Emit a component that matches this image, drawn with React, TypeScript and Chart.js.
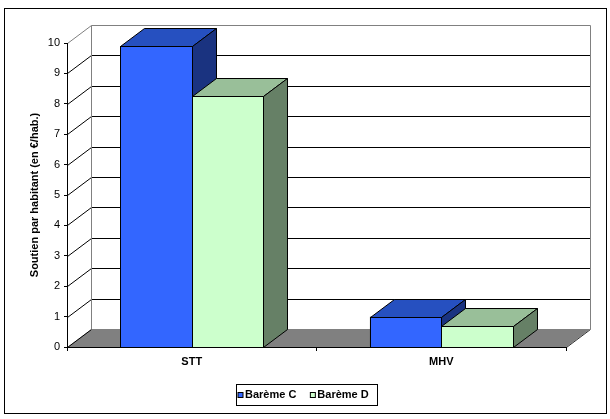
import React, { useEffect, useRef } from 'react';
import { Chart, BarController, CategoryScale, LinearScale, BarElement, Title } from 'chart.js';

Chart.register(BarController, CategoryScale, LinearScale, BarElement, Title);

const categories = ['STT', 'MHV'];
const seriesNames = ['Barème C', 'Barème D'];
const baremeC = [9.9, 1.0];
const baremeD = [8.25, 0.7];
const yTitle = 'Soutien par habitant (en €/hab.)';

const FONT = '"Liberation Sans", Arial, sans-serif';
// depth of the 3D box (pixels)
const DX = 24;
const DY = -18;

const shades = [
    { front: '#3366FF', top: '#2650C0', side: '#1A3380' },
    { front: '#CCFFCC', top: '#99BF99', side: '#668066' },
];

const px = (v: number) => Math.round(v) + 0.5;

const boxPlugin = {
    id: 'box3d',
    beforeDraw(chart: any) {
        const { ctx, chartArea: a } = chart;
        const y = chart.scales.y;
        const y0 = y.getPixelForValue(0);
        const yTop = y.getPixelForValue(y.max);
        const l = px(a.left);
        const r = px(a.right);
        ctx.save();
        ctx.fillStyle = '#fff';
        ctx.fillRect(0, 0, chart.width, chart.height);
        ctx.lineWidth = 1;
        ctx.strokeStyle = '#000';
        ctx.strokeRect(4.5, 8.5, 602, 405);

        // floor
        ctx.fillStyle = '#808080';
        ctx.beginPath();
        ctx.moveTo(l, y0);
        ctx.lineTo(r, y0);
        ctx.lineTo(r + DX, y0 + DY);
        ctx.lineTo(l + DX, y0 + DY);
        ctx.closePath();
        ctx.fill();
        ctx.strokeStyle = '#333';
        ctx.beginPath();
        ctx.moveTo(r, px(y0));
        ctx.lineTo(r + DX, px(y0) + DY);
        ctx.stroke();

        // gridlines on side and back wall
        y.ticks.forEach((t: any) => {
            const py = px(y.getPixelForValue(t.value));
            const isTop = t.value === y.max;
            ctx.strokeStyle = isTop ? '#808080' : '#000';
            ctx.beginPath();
            ctx.moveTo(l, py);
            ctx.lineTo(l + DX, py + DY);
            if (t.value !== 0) ctx.lineTo(r + DX, py + DY);
            ctx.stroke();
        });

        // back wall edges
        ctx.strokeStyle = '#808080';
        ctx.beginPath();
        ctx.moveTo(l + DX, px(yTop) + DY);
        ctx.lineTo(l + DX, px(y0) + DY);
        ctx.moveTo(r + DX, px(yTop) + DY);
        ctx.lineTo(r + DX, px(y0) + DY);
        ctx.stroke();
        ctx.restore();
    },
    // Chart.js paints dataset 0 last; redo the boxes series by series so the
    // next series' front face hides the previous one's side
    afterDatasetsDraw(chart: any) {
        const { ctx } = chart;
        ctx.save();
        ctx.lineWidth = 1;
        ctx.strokeStyle = '#000';
        ctx.lineJoin = 'miter';
        chart.data.datasets.forEach((_ds: any, i: number) => {
            const s = shades[i];
            chart.getDatasetMeta(i).data.forEach((bar: any) => {
                const { x, y, base, width } = bar.getProps(['x', 'y', 'base', 'width'], true);
                const left = px(x - width / 2);
                const right = px(x + width / 2);
                const top = px(y);
                const bot = px(base);
                ctx.fillStyle = s.front;
                ctx.fillRect(left, top, right - left, bot - top);
                ctx.strokeRect(left, top, right - left, bot - top);
                ctx.fillStyle = s.top;
                ctx.beginPath();
                ctx.moveTo(left, top);
                ctx.lineTo(right, top);
                ctx.lineTo(right + DX, top + DY);
                ctx.lineTo(left + DX, top + DY);
                ctx.closePath();
                ctx.fill();
                ctx.stroke();
                ctx.fillStyle = s.side;
                ctx.beginPath();
                ctx.moveTo(right, top);
                ctx.lineTo(right + DX, top + DY);
                ctx.lineTo(right + DX, bot + DY);
                ctx.lineTo(right, bot);
                ctx.closePath();
                ctx.fill();
                ctx.stroke();
            });
        });
        ctx.restore();
    },
    afterDraw(chart: any) {
        const { ctx } = chart;
        ctx.save();
        ctx.font = `bold 11px ${FONT}`;
        ctx.textBaseline = 'middle';
        ctx.textAlign = 'left';
        const boxL = 236;
        const boxT = 384;
        const cy = 395;
        const gap = 14;
        let xPos = boxL + 2;
        chart.data.datasets.forEach((ds: any, i: number) => {
            ctx.fillStyle = shades[i].front;
            ctx.fillRect(xPos, cy - 2.5, 5, 5);
            ctx.strokeStyle = '#000';
            ctx.lineWidth = 1;
            ctx.strokeRect(xPos, cy - 2.5, 5, 5);
            ctx.fillStyle = '#000';
            ctx.fillText(ds.label, xPos + 7, cy);
            xPos += 7 + ctx.measureText(ds.label).width + gap;
        });
        const boxR = xPos - gap + 8;
        ctx.strokeStyle = '#000';
        ctx.strokeRect(boxL + 0.5, boxT + 0.5, Math.round(boxR - boxL), 21);
        ctx.restore();
    },
};

const App: React.FC = () => {
    const canvasRef = useRef<HTMLCanvasElement | null>(null);
    const chartRef = useRef<Chart | null>(null);

    useEffect(() => {
        if (!canvasRef.current) return;
        chartRef.current?.destroy();

        chartRef.current = new Chart(canvasRef.current, {
            type: 'bar',
            data: {
                labels: categories,
                datasets: [
                    {
                        label: seriesNames[0],
                        data: baremeC,
                        backgroundColor: shades[0].front,
                        borderColor: '#000',
                        borderWidth: 1,
                        borderSkipped: false,
                    },
                    {
                        label: seriesNames[1],
                        data: baremeD,
                        backgroundColor: shades[1].front,
                        borderColor: '#000',
                        borderWidth: 1,
                        borderSkipped: false,
                    },
                ],
            },
            options: {
                responsive: true,
                maintainAspectRatio: false,
                animation: false,
                devicePixelRatio: 1,
                datasets: { bar: { categoryPercentage: 0.573, barPercentage: 1 } },
                layout: { padding: { left: 24, right: 44, top: 43, bottom: 50 } },
                scales: {
                    x: {
                        afterFit: (scale: any) => { scale.height = 22; },
                        grid: { drawOnChartArea: false, tickLength: 4, color: '#000' },
                        border: { color: '#000' },
                        ticks: { color: '#000', padding: 4, font: { family: FONT, size: 11, weight: 'bold' } },
                    },
                    y: {
                        min: 0,
                        max: 10,
                        afterFit: (scale: any) => { scale.width = 43; },
                        grid: { drawOnChartArea: false, tickLength: 3, color: '#000' },
                        border: { color: '#000' },
                        ticks: { stepSize: 1, color: '#000', padding: 4, font: { family: FONT, size: 11 } },
                        title: {
                            display: true,
                            text: yTitle,
                            color: '#000',
                            font: { family: FONT, size: 11, weight: 'bold' },
                        },
                    },
                },
                plugins: {
                    legend: { display: false },
                    tooltip: { enabled: false },
                },
            },
            plugins: [boxPlugin],
        });

        return () => {
            chartRef.current?.destroy();
            chartRef.current = null;
        };
    }, []);

    return (
        <div style={{ position: 'absolute', left: 0, top: 0, width: 610, height: 419 }}>
            <canvas ref={canvasRef}></canvas>
        </div>
    );
};

export default App;
